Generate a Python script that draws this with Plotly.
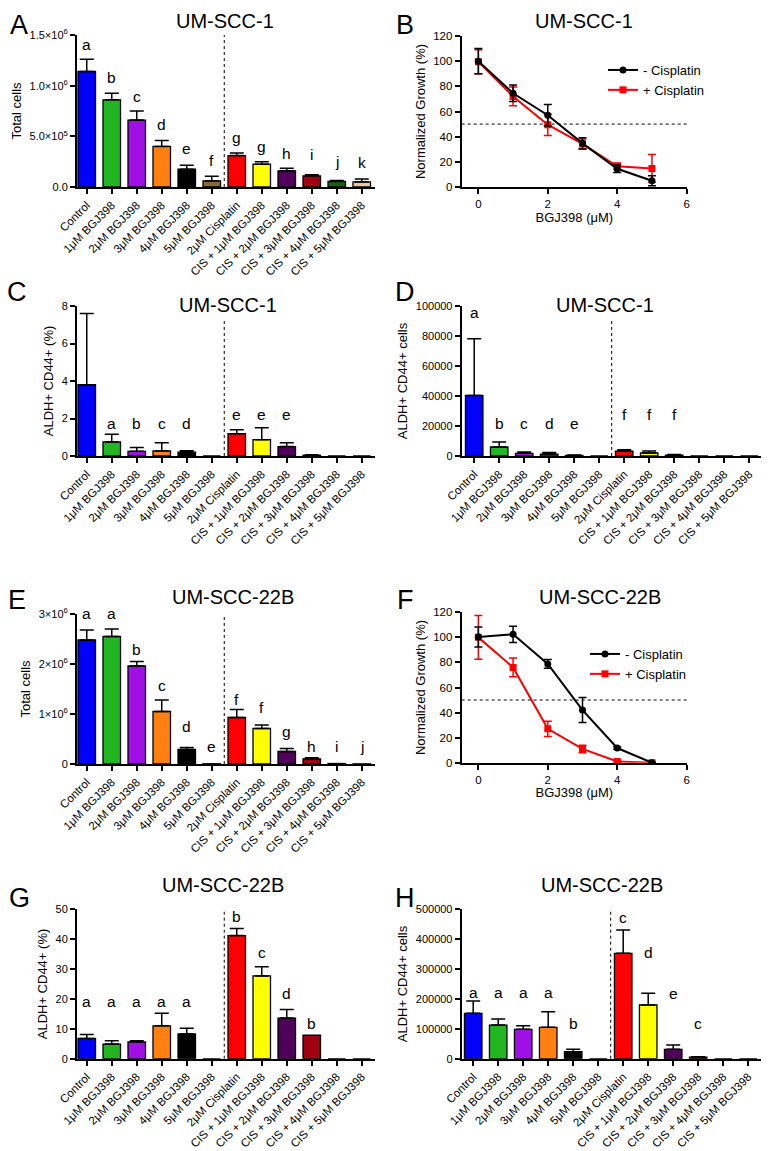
import plotly.graph_objects as go

# ---------------- data ----------------
categories = ["Control", "1μM BGJ398", "2μM BGJ398", "3μM BGJ398", "4μM BGJ398",
              "5μM BGJ398", "2μM Cisplatin", "CIS + 1μM BGJ398", "CIS + 2μM BGJ398",
              "CIS + 3μM BGJ398", "CIS + 4μM BGJ398", "CIS + 5μM BGJ398"]
bar_colors = ["#0000FF", "#22B722", "#A010E6", "#FF8010", "#000000", "#8C6A38",
              "#FF0000", "#FFFF00", "#50005A", "#A00010", "#186218", "#EBC8A0"]

# A: UM-SCC-1 total cells
a_mean = [1.14e6, 0.86e6, 0.66e6, 0.40e6, 0.175e6, 0.06e6, 0.31e6, 0.225e6, 0.16e6, 0.11e6, 0.055e6, 0.05e6]
a_err = [0.12e6, 0.065e6, 0.09e6, 0.06e6, 0.04e6, 0.045e6, 0.025e6, 0.025e6, 0.025e6, 0.01e6, 0.008e6, 0.03e6]
a_letters = ["a", "b", "c", "d", "e", "f", "g", "g", "h", "i", "j", "k"]
a_letter_y = [1.352e6, 1.022e6, 0.84e6, 0.567e6, 0.323e6, 0.208e6, 0.435e6, 0.35e6, 0.28e6, 0.264e6, 0.2e6, 0.19e6]

# B: UM-SCC-1 normalized growth
dose = [0, 1, 2, 3, 4, 5]
b_minus = [100, 74.5, 57, 34.7, 14.5, 5]
b_minus_err = [10, 6.5, 8.5, 4.5, 3, 4]
b_plus = [99.5, 72, 49.5, 34.2, 16.5, 14.8]
b_plus_err = [9.5, 7.5, 8.5, 4, 2.5, 11]

# C: UM-SCC-1 ALDH+ CD44+ (%)
c_mean = [3.8, 0.75, 0.25, 0.27, 0.21, 0, 1.19, 0.87, 0.5, 0.04, 0, 0]
c_err = [3.8, 0.41, 0.2, 0.43, 0.07, 0, 0.21, 0.63, 0.21, 0.02, 0, 0]
c_letters = ["a", "a", "b", "c", "d", "", "e", "e", "e", "", "", ""]
c_letter_y = [8.14, 1.46, 1.46, 1.46, 1.46, 0, 1.94, 1.94, 1.94, 0, 0, 0]

# D: UM-SCC-1 ALDH+ CD44+ cells
d_mean = [40400, 6000, 1800, 1300, 400, 0, 3300, 2000, 500, 0, 0, 0]
d_err = [37800, 3300, 900, 1100, 300, 0, 900, 1300, 500, 0, 0, 0]
d_letters = ["a", "b", "c", "d", "e", "", "f", "f", "f", "", "", ""]
d_letter_y = [92000, 17800, 17800, 17800, 17800, 0, 24200, 24200, 24200, 0, 0, 0]

# E: UM-SCC-22B total cells
e_mean = [2.48e6, 2.55e6, 1.96e6, 1.05e6, 0.29e6, 0.005e6, 0.93e6, 0.71e6, 0.25e6, 0.1e6, 0.01e6, 0.003e6]
e_err = [0.2e6, 0.15e6, 0.09e6, 0.23e6, 0.04e6, 0, 0.16e6, 0.07e6, 0.06e6, 0.027e6, 0, 0]
e_letters = ["a", "a", "b", "c", "d", "e", "f", "f", "g", "h", "i", "j"]
e_letter_y = [2.9e6, 2.9e6, 2.18e6, 1.47e6, 0.633e6, 0.247e6, 1.18e6, 1.027e6, 0.547e6, 0.233e6, 0.233e6, 0.233e6]

# F: UM-SCC-22B normalized growth
f_minus = [100.3, 102.4, 78.8, 42, 11.7, 0]
f_minus_err = [8, 6.5, 3.5, 10, 1, 0.5]
f_plus = [100, 76, 27, 11, 1, 0]
f_plus_err = [17.5, 7.5, 6, 3, 1, 0]

# G: UM-SCC-22B ALDH+ CD44+ (%)
g_mean = [6.8, 4.9, 5.6, 11.0, 8.3, 0, 41.2, 27.7, 13.6, 7.9, 0, 0]
g_err = [1.3, 1.1, 0.4, 4.2, 1.9, 0, 2.4, 3.1, 2.9, 0, 0, 0]
g_letters = ["a", "a", "a", "a", "a", "", "b", "c", "d", "b", "", ""]
g_letter_y = [17.4, 17.4, 17.4, 17.4, 17.4, 0, 45.9, 33.6, 19.9, 9.8, 0, 0]

# H: UM-SCC-22B ALDH+ CD44+ cells
h_mean = [151800, 112700, 98200, 104900, 23400, 0, 352700, 179700, 31250, 5600, 0, 0]
h_err = [41200, 20100, 12300, 52500, 7850, 0, 78100, 39050, 14510, 1100, 0, 0]
h_letters = ["a", "a", "a", "a", "b", "", "c", "d", "e", "c", "", ""]
h_letter_y = [202000, 202000, 202000, 202000, 98000, 0, 455000, 338000, 199000, 101000, 0, 0]

# ---------------- layout helpers ----------------
OFF = 8  # default page body margin of the html page
W, H = 774 - OFF, 1151 - OFF
FONT = "Liberation Sans, Arial, Helvetica, sans-serif"


def fx(p):
    return (p - OFF) / W


def fy(p):
    return 1 - (p - OFF) / H


fig = go.Figure()
layout = dict(width=W, height=H, margin=dict(l=0, r=0, t=0, b=0, pad=0, autoexpand=False),
              paper_bgcolor="white", plot_bgcolor="white",
              font=dict(family=FONT, color="black"), showlegend=True)
annotations = []
shapes = []


def axis_common(tsize=11):
    return dict(showline=True, linecolor="black", linewidth=2, ticks="outside",
                tickcolor="black", tickwidth=1.5, ticklen=5, showgrid=False,
                zeroline=False, tickfont=dict(size=tsize, color="black", family=FONT),
                fixedrange=True, automargin=False)


def names(n):
    s = "" if n == 1 else str(n)
    return "x" + s, "y" + s, "xaxis" + s, "yaxis" + s


def add_title(text, cx, cy, letter, lx, ly):
    annotations.append(dict(text=text, x=fx(cx), y=fy(cy), xref="paper", yref="paper",
                            xanchor="center", yanchor="middle", showarrow=False,
                            font=dict(size=20, family=FONT, color="black")))
    annotations.append(dict(text=letter, x=fx(lx), y=fy(ly), xref="paper", yref="paper",
                            xanchor="center", yanchor="middle", showarrow=False,
                            font=dict(size=27, family=FONT, color="black")))


def bar_panel(n, xpx, ypx, xrange, means, errs, letters, letter_y, yrange,
              tickvals, ticktext, ytitle, dot_top):
    xa, ya, xk, yk = names(n)
    idx = list(range(len(categories)))
    fig.add_trace(go.Bar(
        x=idx, y=means, width=0.7,
        marker=dict(color=bar_colors, line=dict(color="black", width=1.3)),
        showlegend=False, hoverinfo="skip", xaxis=xa, yaxis=ya))
    # upward error bars only where there is an error value
    ex = [i for i, e in zip(idx, errs) if e > 0]
    ey = [m for m, e in zip(means, errs) if e > 0]
    ee = [e for e in errs if e > 0]
    fig.add_trace(go.Scatter(
        x=ex, y=ey, mode="markers", marker=dict(size=0.1, color="rgba(0,0,0,0)"),
        error_y=dict(type="data", array=ee, arrayminus=[0] * len(ee), symmetric=False,
                     color="black", thickness=1.5, width=7),
        showlegend=False, hoverinfo="skip", xaxis=xa, yaxis=ya))
    layout[xk] = dict(axis_common(11.5), domain=[fx(xpx[0]), fx(xpx[1])], range=xrange,
                      tickvals=idx, ticktext=categories, tickangle=-45, anchor=ya)
    layout[yk] = dict(axis_common(11), domain=[fy(ypx[1]), fy(ypx[0])], range=yrange,
                      tickvals=tickvals, ticktext=ticktext, anchor=xa,
                      title=dict(text=ytitle, font=dict(size=13, family=FONT, color="black"),
                                 standoff=5))
    for i, (lt, ly) in enumerate(zip(letters, letter_y)):
        if lt:
            annotations.append(dict(text=lt, x=i, y=ly, xref=xa, yref=ya,
                                    xanchor="center", yanchor="bottom", yshift=-5,
                                    showarrow=False,
                                    font=dict(size=15.5, family=FONT, color="black")))
    shapes.append(dict(type="line", xref=xa, yref=ya + " domain", x0=5.5, x1=5.5,
                       y0=0, y1=dot_top, line=dict(color="black", width=1, dash="dot")))


def line_panel(n, xpx, ypx, minus, minus_err, plus, plus_err, legend_name, legend_pos):
    xa, ya, xk, yk = names(n)
    fig.add_trace(go.Scatter(
        x=dose, y=plus, mode="lines+markers", name="+ Cisplatin",
        line=dict(color="#FF0000", width=2), marker=dict(symbol="square", size=7, color="#FF0000"),
        error_y=dict(type="data", array=plus_err, color="#FF0000", thickness=1.5, width=4),
        xaxis=xa, yaxis=ya, legend=legend_name, legendrank=2, hoverinfo="skip"))
    fig.add_trace(go.Scatter(
        x=dose, y=minus, mode="lines+markers", name="- Cisplatin",
        line=dict(color="black", width=2), marker=dict(symbol="circle", size=7, color="black"),
        error_y=dict(type="data", array=minus_err, color="black", thickness=1.5, width=4),
        xaxis=xa, yaxis=ya, legend=legend_name, legendrank=1, hoverinfo="skip"))
    layout[xk] = dict(axis_common(11.5), domain=[fx(xpx[0]), fx(xpx[1])], range=[-0.48, 6.01],
                      tickvals=[0, 2, 4, 6], anchor=ya,
                      title=dict(text="BGJ398 (μM)", font=dict(size=13, family=FONT, color="black"),
                                 standoff=2))
    layout[yk] = dict(axis_common(11.5), domain=[fy(ypx[1]), fy(ypx[0])], range=[0, 120],
                      tickvals=[0, 20, 40, 60, 80, 100, 120], anchor=xa,
                      title=dict(text="Normalized Growth (%)",
                                 font=dict(size=13, family=FONT, color="black"), standoff=5))
    layout[legend_name] = dict(x=fx(legend_pos[0]), y=fy(legend_pos[1]), xanchor="left",
                               yanchor="top", bgcolor="rgba(0,0,0,0)",
                               font=dict(size=13, family=FONT, color="black"),
                               tracegroupgap=0, itemclick=False, itemdoubleclick=False)
    shapes.append(dict(type="line", xref=xa, yref=ya, x0=-0.48, x1=6, y0=50, y1=50,
                       line=dict(color="black", width=1, dash="dot")))


LEFT = (77, 375)
RIGHT = (461.7, 760.7)
RLINE = (461.7, 687)

# A
bar_panel(1, LEFT, (35, 187), [-0.39, 11.53], a_mean, a_err, a_letters, a_letter_y,
          [0, 1.5e6], [0, 5e5, 1e6, 1.5e6],
          ["0.0", "5.0×10<sup>5</sup>", "1.0×10<sup>6</sup>", "1.5×10<sup>6</sup>"],
          "Total cells", 1.0)
add_title("UM-SCC-1", 225, 21, "A", 19, 25)

# B
line_panel(2, RLINE, (36, 187), b_minus, b_minus_err, b_plus, b_plus_err, "legend", (603, 55))
add_title("UM-SCC-1", 584, 21, "B", 405, 25)

# C
bar_panel(3, LEFT, (306, 456), [-0.39, 11.53], c_mean, c_err, c_letters, c_letter_y,
          [0, 8], [0, 2, 4, 6, 8], ["0", "2", "4", "6", "8"],
          "ALDH+ CD44+ (%)", 0.9)
add_title("UM-SCC-1", 228, 305, "C", 17, 292)

# D
bar_panel(4, RIGHT, (306, 456), [-0.5, 11.46], d_mean, d_err, d_letters, d_letter_y,
          [0, 100000], [0, 20000, 40000, 60000, 80000, 100000],
          ["0", "20000", "40000", "60000", "80000", "100000"],
          "ALDH+ CD44+ cells", 0.9)
add_title("UM-SCC-1", 605, 305, "D", 405, 292)

# E
bar_panel(5, LEFT, (614, 764), [-0.39, 11.53], e_mean, e_err, e_letters, e_letter_y,
          [0, 3e6], [0, 1e6, 2e6, 3e6],
          ["0", "1×10<sup>6</sup>", "2×10<sup>6</sup>", "3×10<sup>6</sup>"],
          "Total cells", 1.0)
add_title("UM-SCC-22B", 233, 597, "E", 17, 600)

# F
line_panel(6, RLINE, (612.3, 762.7), f_minus, f_minus_err, f_plus, f_plus_err, "legend2", (585, 639))
add_title("UM-SCC-22B", 600, 597, "F", 405, 600)

# G
bar_panel(7, LEFT, (909.3, 1058.7), [-0.39, 11.53], g_mean, g_err, g_letters, g_letter_y,
          [0, 50], [0, 10, 20, 30, 40, 50], ["0", "10", "20", "30", "40", "50"],
          "ALDH+ CD44+ (%)", 1.0)
add_title("UM-SCC-22B", 223, 885, "G", 20, 898)

# H
bar_panel(8, RIGHT, (909.3, 1058.7), [-0.46, 11.5], h_mean, h_err, h_letters, h_letter_y,
          [0, 500000], [0, 100000, 200000, 300000, 400000, 500000],
          ["0", "100000", "200000", "300000", "400000", "500000"],
          "ALDH+ CD44+ cells", 1.0)
add_title("UM-SCC-22B", 602, 885, "H", 405, 898)

layout["annotations"] = annotations
layout["shapes"] = shapes
fig.update_layout(**layout)
fig.write_html("out.html")
